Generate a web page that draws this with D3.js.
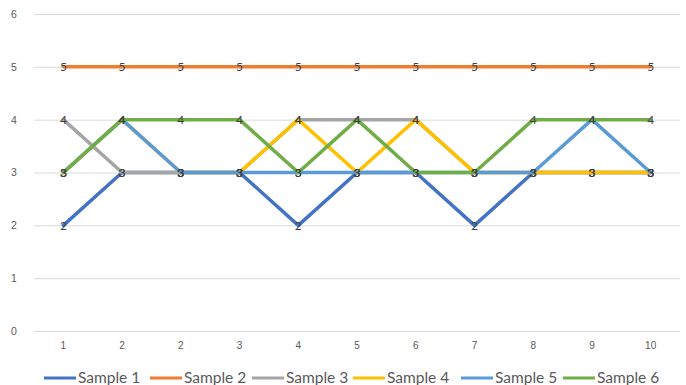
<!DOCTYPE html>
<html>
<head>
<meta charset="utf-8">
<script src="https://cdn.jsdelivr.net/npm/d3@7"></script>
<style>
  html, body { margin: 0; padding: 0; background: #fff; }
  svg { display: block; font-family: Lato, "Open Sans", sans-serif; }
</style>
</head>
<body>
<svg id="chart" width="686" height="385"></svg>
<script>
// Category labels along the x axis
const categories = ["1", "2", "2", "3", "4", "5", "6", "7", "8", "9", "10"];
const yTicks = [0, 1, 2, 3, 4, 5, 6];

// Series values, in drawing order
const seriesNames = ["Sample 1", "Sample 2", "Sample 3", "Sample 4", "Sample 5", "Sample 6"];
const sample1 = [2, 3, 3, 3, 2, 3, 3, 2, 3, 3, 3];
const sample2 = [5, 5, 5, 5, 5, 5, 5, 5, 5, 5, 5];
const sample3 = [4, 3, 3, 3, 4, 4, 4, 3, 3, 3, 3];
const sample4 = [3, 4, 3, 3, 4, 3, 4, 3, 3, 3, 3];
const sample5 = [3, 4, 3, 3, 3, 3, 3, 3, 3, 4, 3];
const sample6 = [3, 4, 4, 4, 3, 4, 3, 3, 4, 4, 4];
const seriesColors = ["#4472C4", "#ED7D31", "#A5A5A5", "#FFC000", "#5B9BD5", "#70AD47"];

const series = seriesNames.map((name, i) => ({
  name,
  color: seriesColors[i],
  values: [sample1, sample2, sample3, sample4, sample5, sample6][i]
}));

const svg = d3.select("#chart");
const plot = { left: 34, right: 680, top: 14, bottom: 331 };

const x = d3.scaleBand()
  .domain(d3.range(categories.length))
  .range([plot.left, plot.right]);
const y = d3.scaleLinear().domain([0, 6]).range([plot.bottom, plot.top]);
const cx = i => x(i) + x.bandwidth() / 2;

// Horizontal gridlines with value labels on the left
const yAxis = d3.axisLeft(y).tickValues(yTicks).tickFormat(d3.format("d"))
  .tickSize(-(plot.right - plot.left)).tickPadding(14);
const gy = svg.append("g").attr("transform", `translate(${plot.left},0)`).call(yAxis);
gy.select(".domain").remove();
gy.selectAll(".tick line").attr("stroke", "#d9d9d9").attr("stroke-width", 1);
gy.selectAll(".tick text").attr("fill", "#595959").attr("font-size", 10.5).attr("text-anchor", "middle").attr("x", -20);

// Category labels
const xAxis = d3.axisBottom(x).tickFormat(i => categories[i]).tickSize(0).tickPadding(11);
const gx = svg.append("g").attr("transform", `translate(0,${plot.bottom})`).call(xAxis);
gx.select(".domain").remove();
gx.selectAll(".tick text").attr("fill", "#595959").attr("font-size", 10);

// Series lines
const line = d3.line().x((d, i) => cx(i)).y(d => y(d));
svg.append("g").selectAll("path")
  .data(series)
  .join("path")
  .attr("d", s => line(s.values))
  .attr("fill", "none")
  .attr("stroke", s => s.color)
  .attr("stroke-width", 3.5)
  .attr("stroke-linejoin", "round")
  .attr("stroke-linecap", "round");

// Value labels at every point
svg.append("g").selectAll("g")
  .data(series)
  .join("g")
  .selectAll("text")
  .data(s => s.values)
  .join("text")
  .attr("x", (d, i) => cx(i))
  .attr("y", d => y(d))
  .attr("dy", "0.36em")
  .attr("text-anchor", "middle")
  .attr("font-size", 12)
  .attr("fill", "#404040")
  .text(d => d);

// Legend
const legendX = [44, 150, 252, 353, 461, 563];
const legend = svg.append("g").attr("transform", "translate(0,378)");
const item = legend.selectAll("g").data(series).join("g")
  .attr("transform", (s, i) => `translate(${legendX[i]},0)`);
item.append("line")
  .attr("x1", 0).attr("x2", 32).attr("y1", 0).attr("y2", 0)
  .attr("stroke", s => s.color).attr("stroke-width", 3);
item.append("text")
  .attr("x", 34).attr("dy", "0.35em")
  .attr("font-size", 15.5).attr("fill", "#595959")
  .text(s => s.name);
</script>
</body>
</html>
